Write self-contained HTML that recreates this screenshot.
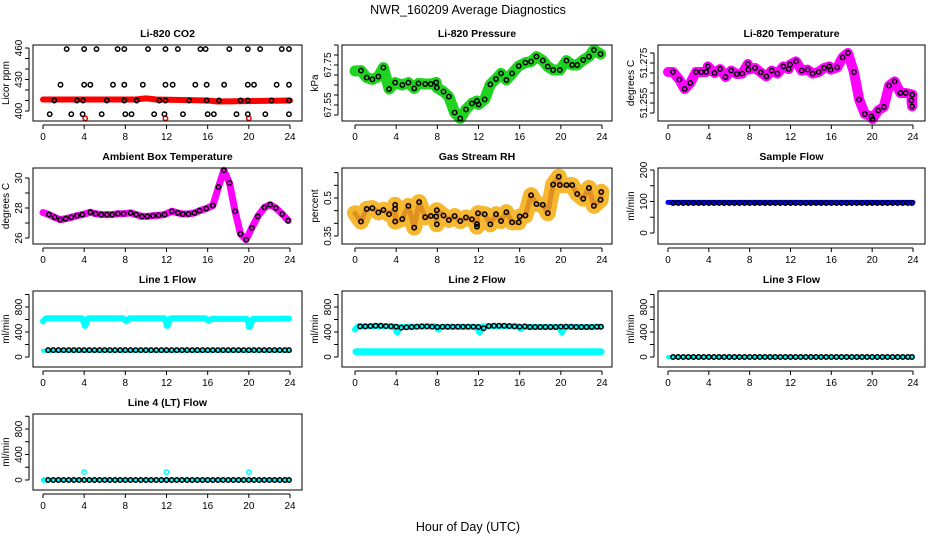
<!DOCTYPE html>
<html><head><meta charset="utf-8"><style>
html,body{margin:0;padding:0;background:#fff}
svg{display:block;font-family:"Liberation Sans",sans-serif}
</style></head><body>
<svg id="c" width="936" height="540" viewBox="0 0 936 540">
<text x="468" y="14" text-anchor="middle" font-size="12.5">NWR_160209  Average Diagnostics</text>
<text x="468" y="531" text-anchor="middle" font-size="12.5">Hour of Day (UTC)</text>
</svg>
<script>
// ---- data ----
const xTicks=[0,4,8,12,16,20,24];
const flowHours=[0.5,1,1.5,2,2.5,3,3.5,4,4.5,5,5.5,6,6.5,7,7.5,8,8.5,9,9.5,10,10.5,11,11.5,12,12.5,13,13.5,14,14.5,15,15.5,16,16.5,17,17.5,18,18.5,19,19.5,20,20.5,21,21.5,22,22.5,23,23.5,23.9];
// CO2
const co2Hours=[2.3,4.0,5.2,7.25,7.9,10.2,11.9,13.1,15.3,15.8,18.1,19.9,21.1,23.2,23.9, 1.7,4.0,4.6,6.8,7.9,9.7,11.9,12.6,14.8,15.9,17.6,19.9,20.5,22.7,23.9, 1.1,3.3,3.9,6.2,7.9,9.1,11.3,11.9,14.2,15.9,17.1,19.2,19.9,22.2,23.9, 0.65,2.75,3.85,5.7,8.0,8.6,10.8,11.8,13.6,16.0,16.6,18.8,19.9,21.6,23.9];
const co2Vals=[459,459,459,459,459,459,459,459,459,459,459,459,459,459,459, 425,425,425,425,425,425,425,425,425,425,425,425,425,425,425, 410,410,410,410,410,410,410,410,410,410,410,410,410,410,410, 397,397,397,397,397,397,397,397,397,397,397,397,397,397,397];
const co2RedHours=[0,9,10,11,16,17,24];
const co2RedVals=[411,411,412,411,410,409,410];
const co2LowHours=[4.1,11.9,20.0];
const co2LowVals=[393,393,393];
// Pressure
const presHours=[0.58,1.14,1.69,2.27,2.76,3.31,3.9,4.6,5.19,5.75,6.17,6.82,7.37,7.89,7.95,8.6,9.12,9.68,10.23,10.78,11.36,11.85,12.01,12.6,13.15,13.7,14.19,14.71,15.26,15.91,16.56,17.11,17.63,18.25,18.73,19.25,19.9,20.55,21.1,21.59,22.18,22.73,23.21,23.86];
const presVals=[67.722,67.687,67.678,67.692,67.737,67.63,67.662,67.65,67.662,67.633,67.658,67.655,67.655,67.663,67.637,67.617,67.592,67.512,67.483,67.528,67.558,67.57,67.553,67.578,67.653,67.68,67.708,67.675,67.708,67.745,67.762,67.767,67.792,67.772,67.742,67.725,67.725,67.772,67.75,67.75,67.775,67.792,67.825,67.805];
// Li-820 temperature
const ltHours=[0.49,1.11,1.63,2.18,2.74,3.26,3.75,3.91,4.56,5.11,5.63,6.19,6.74,7.26,7.82,7.88,8.53,9.09,9.64,10.16,10.72,11.3,11.82,11.95,12.54,13.09,13.68,14.17,14.76,15.28,15.8,15.93,16.58,17.1,17.62,18.21,18.73,19.28,19.93,20.03,20.59,21.14,21.66,22.21,22.77,23.29,23.94,23.91,23.84];
const ltVals=[51.2705,51.2667,51.262,51.265,51.2705,51.2705,51.2705,51.2733,51.27,51.272,51.268,51.2712,51.2695,51.2697,51.2745,51.2717,51.2725,51.2703,51.2683,51.2712,51.2697,51.2733,51.272,51.2742,51.2758,51.2712,51.2717,51.2697,51.2705,51.2725,51.2733,51.2717,51.2728,51.2778,51.28,51.2705,51.2567,51.2495,51.2483,51.247,51.2513,51.253,51.2637,51.2658,51.26,51.26,51.2592,51.2533,51.2563];
// Ambient box temperature
const abHours=[0.58,1.13,1.68,2.2,2.75,3.3,3.82,4.6,5.11,5.66,6.21,6.73,7.28,7.83,8.51,9.06,9.61,10.13,10.68,11.23,11.81,12.52,13.11,13.59,14.14,14.72,15.21,15.86,16.5,17.05,17.57,18.12,18.67,19.19,19.74,20.29,20.87,21.52,22.07,22.62,23.24,23.82];
const abVals=[27.56,27.38,27.22,27.29,27.38,27.49,27.56,27.71,27.62,27.56,27.56,27.56,27.62,27.62,27.67,27.56,27.44,27.44,27.49,27.51,27.56,27.78,27.67,27.6,27.6,27.67,27.82,27.96,28.16,29.4,30.51,29.67,27.78,26.27,25.89,26.67,27.44,28.04,28.22,28.0,27.6,27.16];
// Gas stream RH
const rhHours=[0.58,1.14,1.69,2.27,2.76,3.31,3.9,3.9,3.9,4.6,5.19,5.75,6.23,6.82,7.37,7.89,7.95,7.95,8.6,9.12,9.68,10.23,10.78,11.36,11.85,11.85,11.95,12.6,13.15,13.7,14.19,14.71,15.26,15.91,16.0,16.56,17.11,17.63,18.25,18.73,19.25,19.8,19.9,20.55,21.1,21.59,22.18,22.73,23.21,23.86,23.93];
const rhVals=[0.407,0.457,0.46,0.443,0.453,0.436,0.457,0.473,0.407,0.417,0.469,0.383,0.484,0.424,0.429,0.427,0.396,0.452,0.431,0.413,0.429,0.409,0.423,0.416,0.397,0.387,0.44,0.436,0.396,0.436,0.409,0.444,0.404,0.404,0.427,0.431,0.511,0.476,0.473,0.44,0.553,0.584,0.551,0.551,0.551,0.516,0.497,0.54,0.469,0.493,0.524];
// Sample flow
const sampleBlue=[97,97];
const sampleBlack=[95,95,95,95,95,95,95,95,95,95,95,95,95,95,95,95,95,95,95,95,95,95,95,95,95,95,95,95,95,95,95,95,95,95,95,95,95,95,95,95,95,95,95,95,95,95,95,95];
// Line flows
const l1CyanHours=[0,0.3,3.8,4.1,4.4,7.8,8.1,8.4,11.8,12.1,12.4,15.8,16.1,16.4,19.8,20.1,20.4,23.9];
const l1CyanVals=[570,620,620,500,620,620,570,620,620,500,620,620,580,610,610,480,610,615];
const l1Black=[110,110,110,110,110,110,110,110,110,110,110,110,110,110,110,110,110,110,110,110,110,110,110,110,110,110,110,110,110,110,110,110,110,110,110,110,110,110,110,110,110,110,110,110,110,110,110,110];
const l2CyanHours=[0,0.3,3.8,4.1,4.4,7.8,8.1,8.4,11.8,12.1,12.4,15.8,16.1,16.4,19.8,20.1,20.4,23.9];
const l2CyanVals=[440,490,490,390,480,490,440,480,480,390,490,490,450,480,480,390,480,480];
const l2Black=[490,490,495,500,500,495,490,485,470,475,480,485,490,490,485,480,485,485,485,485,485,485,485,480,460,495,500,500,500,495,490,485,490,480,480,480,480,480,480,485,485,485,480,480,480,480,485,485];
const zeroFlow=[0,0,0,0,0,0,0,0,0,0,0,0,0,0,0,0,0,0,0,0,0,0,0,0,0,0,0,0,0,0,0,0,0,0,0,0,0,0,0,0,0,0,0,0,0,0,0,0];
const l4SpikeHours=[0.1,4.0,12.0,20.0];
const l4SpikeVals=[0,125,125,125];

// ---- layout ----
const NS="http://www.w3.org/2000/svg";
const svg=document.getElementById('c');
const cols=[{l:33,r:302,x0:43,x24:290},{l:342,r:612,x0:355,x24:602},{l:658,r:925,x0:668,x24:913}];
const rowTops=[45,168,291,414];
const H=76;
function mk(tag,attrs,parent){const e=document.createElementNS(NS,tag);for(const k in attrs)e.setAttribute(k,attrs[k]);(parent||svg).appendChild(e);return e;}
function panel(ci,ri,title,ylab,v1,o1,v2,o2,ticks,labels,name){
  const c=cols[ci],top=rowTops[ri],bot=top+H;
  const g=mk('g',{});
  
  
  const xs=h=>c.x0+(h)*(c.x24-c.x0)/24;
  const ys=v=>top+o1+(v-v1)*(o2-o1)/(v2-v1);
  const cg=mk('g',{},g);
  
  
  const b=mk('rect',{x:c.l,y:top,width:c.r-c.l,height:H,fill:'none',stroke:'#000','stroke-width':1},g);
  
  
  const t=mk('text',{x:(c.l+c.r)/2,y:top-8,'text-anchor':'middle','font-size':10.5,'font-weight':'bold'},g);
  t.textContent=title;
  
  
  const yl=mk('text',{x:0,y:0,'text-anchor':'middle','font-size':10,transform:`translate(${c.l-24},${top+H/2}) rotate(-90)`},g);
  yl.textContent=ylab;
  
  
  const ax=mk('g',{},g);
  
  
  mk('line',{x1:xs(0),x2:xs(24),y1:bot+4,y2:bot+4,stroke:'#000'},ax);
  xTicks.forEach(h=>{
    mk('line',{x1:xs(h),x2:xs(h),y1:bot+4,y2:bot+8,stroke:'#000'},ax);
    const tl=mk('text',{x:xs(h),y:bot+19,'text-anchor':'middle','font-size':10},ax);
    tl.textContent=h;
    
    
  });
  const ay=mk('g',{},g);
  
  
  mk('line',{x1:c.l-4,x2:c.l-4,y1:ys(ticks[0]),y2:ys(ticks[ticks.length-1]),stroke:'#000'},ay);
  ticks.forEach(v=>mk('line',{x1:c.l-8,x2:c.l-4,y1:ys(v),y2:ys(v),stroke:'#000'},ay));
  labels.forEach(v=>{
    const tl=mk('text',{x:0,y:0,'text-anchor':'middle','font-size':10,transform:`translate(${c.l-11},${ys(v)}) rotate(-90)`},ay);
    tl.textContent=v;
    
    
  });
  return {g:cg,xs,ys};
}
function line(p,hs,vs,color,w,name){
  const pts=hs.map((h,i)=>p.xs(h).toFixed(1)+','+p.ys(vs[i]).toFixed(1)).join(' ');
  const e=mk('polyline',{points:pts,fill:'none',stroke:color,'stroke-width':w,'stroke-linejoin':'round','stroke-linecap':'round'},p.g);
  
  
}
function pts(p,hs,vs,color,name,r){
  hs.forEach((h,i)=>{
    const e=mk('circle',{cx:p.xs(h),cy:p.ys(vs[i]),r:r||2.2,fill:'none',stroke:color,'stroke-width':1.5},p.g);
    
    
  });
}
const rng=(a,b,s)=>{const o=[];for(let v=a;v<=b+1e-9;v+=s)o.push(+v.toFixed(4));return o;};

// CO2
let p=panel(0,0,'Li-820 CO2','Licor ppm',460,3,400,66,rng(400,460,10),[400,430,460],'co2');
line(p,co2RedHours,co2RedVals,'#f00',6,'co2-red-series');
pts(p,co2LowHours,co2LowVals,'#f00','co2-red-point');
pts(p,co2Hours,co2Vals,'#000','co2-point');
// Pressure
p=panel(1,0,'Li-820 Pressure','kPa',67.75,20,67.55,60,rng(67.5,67.85,0.05),[67.55,67.75],'pressure');
line(p,[0].concat(presHours),[67.72].concat(presVals),'#1ed41e',11,'pressure-green-series');
pts(p,presHours,presVals,'#000','pressure-point');
// Li temp
p=panel(2,0,'Li-820 Temperature','degrees C',51.275,18,51.255,58,rng(51.25,51.28,0.005),[51.255,51.275],'li-temp');
line(p,[0].concat(ltHours),[51.2705].concat(ltVals),'#f0f',10,'li-temp-magenta-series');
pts(p,ltHours,ltVals,'#000','li-temp-point');
// Ambient
p=panel(0,1,'Ambient Box Temperature','degrees C',30,10,26,70,[26,27,28,29,30],[26,28,30],'ambient');
line(p,[0].concat(abHours),[27.7].concat(abVals),'#f0f',7,'ambient-magenta-series');
pts(p,abHours,abVals,'#000','ambient-point');
// RH
p=panel(1,1,'Gas Stream RH','percent',0.5,30,0.35,68,rng(0.35,0.6,0.05),[0.35,0.5],'rh');
line(p,[0].concat(rhHours),[0.44].concat(rhVals),'#f5b830',16,'rh-orange-series');
line(p,[0].concat(rhHours),[0.44].concat(rhVals),'#e09020',5,'rh-red-series');
pts(p,rhHours,rhVals,'#000','rh-point');
// Sample flow
p=panel(2,1,'Sample Flow','ml/min',200,2,0,65,[0,50,100,150,200],[0,100,200],'sample-flow');
line(p,[0,24],sampleBlue,'#00f',5,'sample-blue-series');
pts(p,flowHours,sampleBlack,'#000','sample-point');
// Line 1
const flowTicks=[0,200,400,600,800,1000];
p=panel(0,2,'Line 1 Flow','ml/min',800,16,0,66,flowTicks,[0,400,800],'line1');
line(p,l1CyanHours,l1CyanVals,'#0ff',6,'line1-cyan-series');
pts(p,[4.05,12.0,20.0],[500,500,480],'#0ff','line1-cyan-point');
line(p,[0,24],[100,100],'#0ff',4,'line1-cyan-low-series');
pts(p,flowHours,l1Black,'#000','line1-point');
// Line 2
p=panel(1,2,'Line 2 Flow','ml/min',800,16,0,66,flowTicks,[0,400,800],'line2');
line(p,l2CyanHours,l2CyanVals,'#0ff',6,'line2-cyan-series');
line(p,[0.1,23.9],[85,85],'#0ff',7,'line2-cyan-low-series');
pts(p,flowHours,l2Black,'#000','line2-point');
// Line 3
p=panel(2,2,'Line 3 Flow','ml/min',800,16,0,66,flowTicks,[0,400,800],'line3');
line(p,[0,24],[0,0],'#0ff',4,'line3-cyan-series');
pts(p,flowHours,zeroFlow,'#000','line3-point');
// Line 4
p=panel(0,3,'Line 4 (LT) Flow','ml/min',800,15,0,66,flowTicks,[0,400,800],'line4');
line(p,[0,24],[0,0],'#0ff',4,'line4-cyan-series');
pts(p,l4SpikeHours,l4SpikeVals,'#0ff','line4-cyan-point');
pts(p,flowHours,zeroFlow,'#000','line4-point');
</script>
</body></html>
